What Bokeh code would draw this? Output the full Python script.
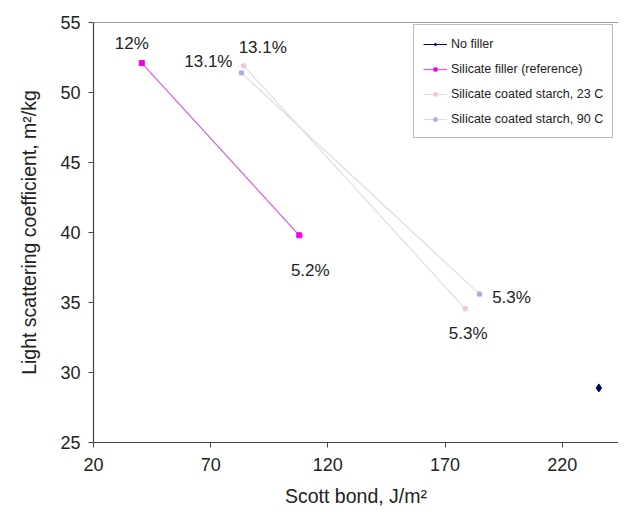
from bokeh.plotting import figure
from bokeh.embed import file_html
from bokeh.resources import INLINE
from bokeh.models import Range1d, Span, Legend, LegendItem, FixedTicker, ColumnDataSource, LabelSet
from bokeh.core.properties import value

# ---- data ----
no_filler_x = [235.6]
no_filler_y = [28.9]

silicate_x = [40.6, 107.8]
silicate_y = [52.1, 39.8]
silicate_labels = ["12%", "5.2%"]

starch23_x = [84.1, 178.6]
starch23_y = [51.9, 34.55]
starch23_labels = ["13.1%", "5.3%"]

starch90_x = [83.1, 184.7]
starch90_y = [51.4, 35.6]
starch90_labels = ["13.1%", "5.3%"]

x_ticks = [20, 70, 120, 170, 220]
y_ticks = [25, 30, 35, 40, 45, 50, 55]

FONT = "Liberation Sans"

p = figure(width=618, height=518, output_backend="svg", toolbar_location=None,
           x_range=Range1d(20, 244), y_range=Range1d(25, 55),
           min_border_left=93, min_border_right=0, min_border_top=22, min_border_bottom=76)
p.frame_width = 525
p.frame_height = 420
p.outline_line_color = None
p.xgrid.grid_line_color = None
p.ygrid.grid_line_color = None
p.background_fill_color = "white"
p.border_fill_color = "white"

p.add_layout(Span(location=55, dimension="width", line_color="#444444", line_width=1.2))

# axes
for ax in (p.xaxis[0], p.yaxis[0]):
    ax.axis_line_color = "#444444"
    ax.axis_line_width = 1.2
    ax.major_tick_line_color = "#444444"
    ax.major_tick_in = 0
    ax.major_tick_out = 5
    ax.minor_tick_line_color = None
    ax.major_label_text_font = FONT
    ax.major_label_text_font_size = "18px"
    ax.major_label_text_color = "#222222"
    ax.axis_label_text_font = FONT
    ax.axis_label_text_font_size = "19.5px"
    ax.axis_label_text_font_style = "normal"
    ax.axis_label_text_color = "#222222"

p.xaxis[0].ticker = FixedTicker(ticks=x_ticks)
p.yaxis[0].ticker = FixedTicker(ticks=y_ticks)
p.xaxis[0].axis_label = "Scott bond, J/m²"
p.yaxis[0].axis_label = "Light scattering coefficient, m²/kg"
p.xaxis[0].major_label_standoff = 10
p.yaxis[0].major_label_standoff = 8
p.xaxis[0].axis_label_standoff = 11
p.yaxis[0].axis_label_standoff = 17

# series
r_nf_l = p.line(no_filler_x, no_filler_y, line_color="#000066", line_width=1)
r_nf_m = p.scatter(no_filler_x, no_filler_y, marker="diamond", size=8,
                   fill_color="#000066", line_color="#000066")

r_si_l = p.line(silicate_x, silicate_y, line_color="#d060d0", line_width=1.2)
r_si_m = p.scatter(silicate_x, silicate_y, marker="square", size=5,
                   fill_color="#ee00ee", line_color="#ee00ee")

r_23_l = p.line(starch23_x, starch23_y, line_color="#e6dbe2", line_width=1.2)
r_23_m = p.scatter(starch23_x, starch23_y, marker="square", size=4,
                   fill_color="#f0c4dc", line_color="#f0c4dc")

r_90_l = p.line(starch90_x, starch90_y, line_color="#dcdce8", line_width=1.2)
r_90_m = p.scatter(starch90_x, starch90_y, marker="square", size=4,
                   fill_color="#b0a8e8", line_color="#b0a8e8")

# data labels
def add_labels(xs, ys, labels, xoffs, yoffs):
    src = ColumnDataSource(dict(x=xs, y=ys, t=labels, xo=xoffs, yo=yoffs))
    ls = LabelSet(x="x", y="y", text="t", source=src, x_offset="xo", y_offset="yo",
                  text_font=value(FONT), text_font_size="17px", text_color="#222222",
                  text_align="center", text_baseline="middle")
    p.add_layout(ls)

add_labels(silicate_x, silicate_y, silicate_labels, [-10, 11], [20, -35])
add_labels(starch90_x, starch90_y, starch90_labels, [-33, 32], [11, -3])
add_labels(starch23_x, starch23_y, starch23_labels, [19, 3], [18, -25])

legend = Legend(items=[
    LegendItem(label="No filler", renderers=[r_nf_l, r_nf_m]),
    LegendItem(label="Silicate filler (reference)", renderers=[r_si_l, r_si_m]),
    LegendItem(label="Silicate coated starch, 23 C", renderers=[r_23_l, r_23_m]),
    LegendItem(label="Silicate coated starch, 90 C", renderers=[r_90_l, r_90_m]),
], location=(320, 304))
legend.label_text_font = FONT
legend.label_text_font_size = "12.5px"
legend.label_text_color = "#222222"
legend.label_height = 19
legend.glyph_height = 8
legend.glyph_width = 24
legend.label_standoff = 4
legend.spacing = 6
legend.padding = 9
legend.margin = 0
legend.border_line_color = "#777777"
legend.border_line_width = 1
legend.background_fill_color = "white"
legend.background_fill_alpha = 1
p.add_layout(legend, "center")

open("out.html", "w").write(file_html(p, INLINE))
